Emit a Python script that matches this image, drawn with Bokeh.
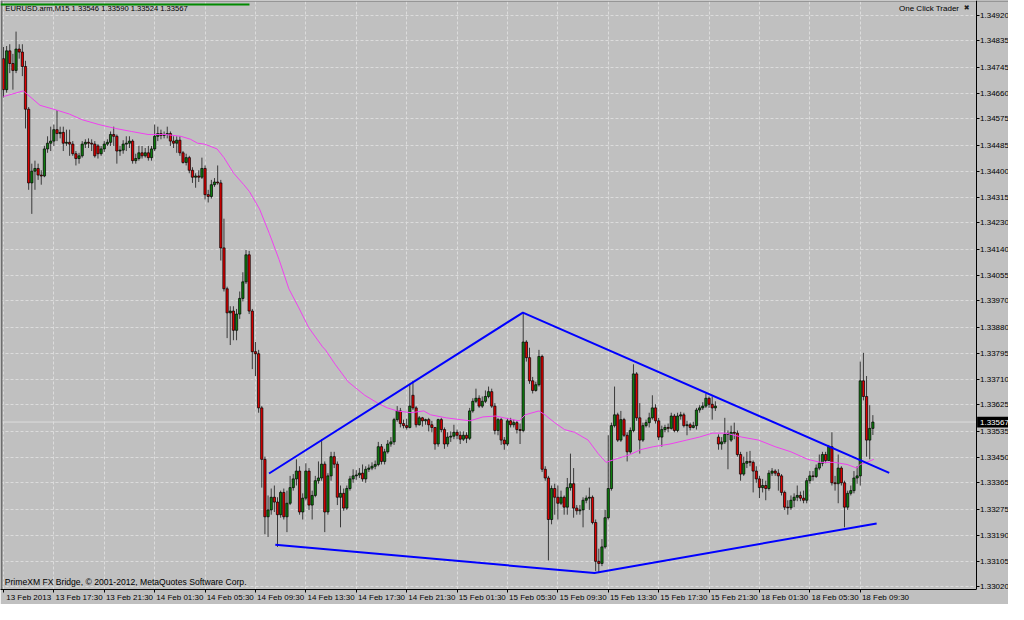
from bokeh.plotting import figure
from bokeh.models import (FixedTicker, Range1d, Label, ColumnDataSource,
                          PrintfTickFormatter)
from bokeh.embed import file_html
from bokeh.resources import INLINE

# ---------------- data (EURUSD M15, bar index 0 = 13 Feb 2013 13:30) ----------------
opens = [
 1.34775,1.34672,1.34801,1.34759,1.34736,1.34807,1.34797,1.34749,1.34607,1.34362,
 1.34401,1.34410,1.34388,1.34385,1.34475,1.34494,1.34501,1.34539,1.34526,1.34530,
 1.34494,1.34497,1.34491,1.34459,1.34443,1.34452,1.34491,1.34497,1.34494,1.34491,
 1.34485,1.34459,1.34475,1.34491,1.34497,1.34523,1.34517,1.34468,1.34471,1.34491,
 1.34494,1.34501,1.34436,1.34443,1.34462,1.34452,1.34462,1.34446,1.34475,1.34517,
 1.34526,1.34520,1.34523,1.34526,1.34501,1.34494,1.34504,1.34462,1.34430,1.34446,
 1.34404,1.34381,1.34385,1.34381,1.34410,1.34323,1.34317,1.34356,1.34365,1.34362,
 1.34146,1.34010,1.33930,1.33936,1.33872,1.33926,1.33978,1.34033,1.34123,1.33936,
 1.33801,1.33794,1.33614,1.33443,1.33252,1.33275,1.33317,1.33301,1.33259,1.33333,
 1.33252,1.33297,1.33349,1.33378,1.33404,1.33268,1.33314,1.33404,1.33291,1.33323,
 1.33372,1.33381,1.33427,1.33268,1.33388,1.33452,1.33427,1.33317,1.33330,1.33281,
 1.33346,1.33378,1.33388,1.33391,1.33397,1.33378,1.33410,1.33414,1.33420,1.33426,
 1.33485,1.33436,1.33468,1.33494,1.33501,1.33575,1.33604,1.33562,1.33555,1.33549,
 1.33656,1.33614,1.33558,1.33581,1.33571,1.33575,1.33558,1.33549,1.33494,1.33575,
 1.33542,1.33494,1.33517,1.33520,1.33533,1.33523,1.33510,1.33523,1.33513,1.33604,
 1.33636,1.33646,1.33620,1.33636,1.33652,1.33668,1.33620,1.33539,1.33575,1.33507,
 1.33494,1.33571,1.33558,1.33565,1.33542,1.33539,1.33833,1.33781,1.33704,1.33672,
 1.33691,1.33785,1.33410,1.33381,1.33243,1.33346,1.33317,1.33297,1.33317,1.33284,
 1.33349,1.33362,1.33281,1.33272,1.33275,1.33307,1.33314,1.33317,1.33233,1.33104,
 1.33097,1.33152,1.33249,1.33346,1.33555,1.33591,1.33507,1.33575,1.33523,1.33468,
 1.33539,1.33727,1.33581,1.33507,1.33555,1.33565,1.33581,1.33614,1.33571,1.33517,
 1.33542,1.33549,1.33546,1.33587,1.33539,1.33587,1.33591,1.33555,1.33558,1.33549,
 1.33555,1.33607,1.33614,1.33620,1.33646,1.33626,1.33614,1.33517,1.33494,1.33501,
 1.33526,1.33507,1.33533,1.33530,1.33459,1.33394,1.33430,1.33436,1.33433,1.33404,
 1.33378,1.33349,1.33356,1.33346,1.33397,1.33404,1.33397,1.33388,1.33333,1.33284,
 1.33282,1.33307,1.33317,1.33323,1.33314,1.33307,1.33372,1.33388,1.33386,1.33414,
 1.33430,1.33459,1.33439,1.33485,1.33365,1.33362,1.33414,1.33365,1.33284,1.33330,
 1.33339,1.33381,1.33388,1.33704,1.33652,1.33507,1.33546]
highs = [
 1.34814,1.34817,1.34823,1.34791,1.34865,1.34823,1.34823,1.34768,1.34614,1.34426,
 1.34436,1.34426,1.34404,1.34485,1.34517,1.34549,1.34556,1.34604,1.34549,1.34549,
 1.34539,1.34539,1.34501,1.34468,1.34462,1.34501,1.34507,1.34510,1.34507,1.34501,
 1.34491,1.34485,1.34501,1.34507,1.34533,1.34549,1.34523,1.34485,1.34504,1.34517,
 1.34517,1.34507,1.34459,1.34485,1.34485,1.34478,1.34485,1.34485,1.34556,1.34549,
 1.34539,1.34533,1.34549,1.34533,1.34517,1.34517,1.34517,1.34468,1.34459,1.34452,
 1.34414,1.34394,1.34404,1.34446,1.34420,1.34339,1.34372,1.34378,1.34420,1.34372,
 1.34243,1.34017,1.33952,1.33952,1.33943,1.34001,1.34065,1.34139,1.34136,1.33943,
 1.33833,1.33807,1.33620,1.33452,1.33323,1.33346,1.33356,1.33317,1.33339,1.33346,
 1.33339,1.33388,1.33394,1.33443,1.33420,1.33330,1.33430,1.33414,1.33339,1.33388,
 1.33436,1.33510,1.33436,1.33397,1.33468,1.33468,1.33436,1.33356,1.33346,1.33356,
 1.33388,1.33410,1.33407,1.33414,1.33426,1.33420,1.33426,1.33433,1.33439,1.33501,
 1.33494,1.33478,1.33507,1.33517,1.33581,1.33620,1.33614,1.33575,1.33578,1.33694,
 1.33704,1.33620,1.33587,1.33584,1.33578,1.33581,1.33571,1.33549,1.33578,1.33581,
 1.33549,1.33533,1.33536,1.33558,1.33542,1.33536,1.33536,1.33533,1.33614,1.33646,
 1.33678,1.33656,1.33652,1.33672,1.33685,1.33678,1.33630,1.33581,1.33581,1.33517,
 1.33581,1.33581,1.33575,1.33571,1.33562,1.33930,1.33839,1.33814,1.33717,1.33701,
 1.33807,1.33791,1.33420,1.33388,1.33356,1.33362,1.33356,1.33339,1.33323,1.33381,
 1.33462,1.33414,1.33291,1.33291,1.33317,1.33323,1.33349,1.33323,1.33243,1.33146,
 1.33178,1.33275,1.33523,1.33565,1.33685,1.33598,1.33604,1.33581,1.33533,1.33549,
 1.33759,1.33733,1.33630,1.33565,1.33575,1.33598,1.33656,1.33626,1.33581,1.33555,
 1.33558,1.33562,1.33598,1.33594,1.33598,1.33601,1.33598,1.33571,1.33565,1.33568,
 1.33614,1.33623,1.33633,1.33662,1.33652,1.33652,1.33636,1.33526,1.33517,1.33581,
 1.33539,1.33555,1.33565,1.33539,1.33468,1.33452,1.33468,1.33471,1.33439,1.33420,
 1.33388,1.33378,1.33372,1.33407,1.33414,1.33410,1.33410,1.33394,1.33339,1.33307,
 1.33323,1.33330,1.33356,1.33336,1.33339,1.33381,1.33404,1.33404,1.33426,1.33459,
 1.33468,1.33468,1.33491,1.33533,1.33388,1.33459,1.33420,1.33372,1.33339,1.33356,
 1.33404,1.33420,1.33768,1.33797,1.33720,1.33623,1.33590]
lows = [
 1.34646,1.34662,1.34727,1.34672,1.34727,1.34775,1.34717,1.34543,1.34339,1.34259,
 1.34339,1.34372,1.34356,1.34381,1.34462,1.34468,1.34485,1.34501,1.34510,1.34468,
 1.34485,1.34452,1.34452,1.34420,1.34426,1.34446,1.34478,1.34478,1.34468,1.34446,
 1.34443,1.34452,1.34465,1.34485,1.34485,1.34485,1.34426,1.34452,1.34459,1.34468,
 1.34478,1.34426,1.34426,1.34436,1.34443,1.34446,1.34436,1.34436,1.34468,1.34501,
 1.34507,1.34510,1.34510,1.34485,1.34478,1.34462,1.34452,1.34426,1.34420,1.34394,
 1.34362,1.34346,1.34365,1.34375,1.34307,1.34297,1.34310,1.34349,1.34356,1.34104,
 1.34001,1.33846,1.33823,1.33839,1.33839,1.33910,1.33968,1.34026,1.33926,1.33743,
 1.33720,1.33598,1.33349,1.33194,1.33185,1.33259,1.33268,1.33152,1.33249,1.33243,
 1.33201,1.33291,1.33339,1.33356,1.33259,1.33243,1.33307,1.33275,1.33243,1.33317,
 1.33362,1.33372,1.33201,1.33259,1.33372,1.33414,1.33291,1.33217,1.33272,1.33275,
 1.33339,1.33365,1.33375,1.33381,1.33369,1.33365,1.33401,1.33407,1.33410,1.33420,
 1.33426,1.33426,1.33462,1.33485,1.33491,1.33568,1.33549,1.33546,1.33542,1.33546,
 1.33607,1.33549,1.33555,1.33552,1.33558,1.33536,1.33533,1.33475,1.33485,1.33533,
 1.33478,1.33485,1.33501,1.33510,1.33510,1.33494,1.33504,1.33497,1.33507,1.33598,
 1.33630,1.33614,1.33614,1.33630,1.33646,1.33614,1.33526,1.33523,1.33491,1.33475,
 1.33488,1.33549,1.33549,1.33529,1.33494,1.33533,1.33768,1.33694,1.33662,1.33668,
 1.33685,1.33401,1.33372,1.33107,1.33227,1.33259,1.33243,1.33291,1.33259,1.33259,
 1.33339,1.33249,1.33259,1.33259,1.33217,1.33297,1.33275,1.33227,1.33072,1.33065,
 1.33088,1.33146,1.33243,1.33339,1.33549,1.33501,1.33501,1.33517,1.33436,1.33462,
 1.33533,1.33571,1.33462,1.33501,1.33549,1.33549,1.33575,1.33562,1.33507,1.33485,
 1.33533,1.33533,1.33542,1.33533,1.33533,1.33575,1.33549,1.33523,1.33539,1.33546,
 1.33542,1.33598,1.33607,1.33614,1.33614,1.33575,1.33604,1.33475,1.33475,1.33494,
 1.33410,1.33501,1.33510,1.33452,1.33372,1.33388,1.33414,1.33420,1.33333,1.33365,
 1.33314,1.33333,1.33307,1.33339,1.33388,1.33388,1.33339,1.33323,1.33275,1.33259,
 1.33275,1.33284,1.33304,1.33304,1.33297,1.33297,1.33362,1.33372,1.33381,1.33407,
 1.33420,1.33430,1.33439,1.33356,1.33339,1.33297,1.33356,1.33217,1.33275,1.33323,
 1.33330,1.33362,1.33356,1.33639,1.33452,1.33443,1.33524]
closes = [
 1.34672,1.34801,1.34759,1.34736,1.34807,1.34797,1.34749,1.34607,1.34362,1.34401,
 1.34410,1.34388,1.34385,1.34475,1.34494,1.34501,1.34539,1.34526,1.34530,1.34494,
 1.34497,1.34491,1.34459,1.34443,1.34452,1.34491,1.34497,1.34494,1.34491,1.34452,
 1.34459,1.34475,1.34491,1.34497,1.34523,1.34517,1.34468,1.34471,1.34491,1.34494,
 1.34501,1.34436,1.34443,1.34462,1.34452,1.34462,1.34446,1.34475,1.34517,1.34526,
 1.34520,1.34523,1.34526,1.34501,1.34494,1.34504,1.34462,1.34430,1.34446,1.34404,
 1.34381,1.34385,1.34381,1.34410,1.34323,1.34317,1.34356,1.34365,1.34362,1.34146,
 1.34010,1.33930,1.33936,1.33872,1.33926,1.33978,1.34033,1.34123,1.33936,1.33801,
 1.33794,1.33614,1.33443,1.33252,1.33275,1.33317,1.33301,1.33259,1.33333,1.33252,
 1.33297,1.33349,1.33378,1.33404,1.33268,1.33314,1.33404,1.33291,1.33323,1.33372,
 1.33381,1.33427,1.33268,1.33388,1.33452,1.33427,1.33317,1.33330,1.33281,1.33346,
 1.33378,1.33388,1.33391,1.33397,1.33378,1.33410,1.33414,1.33420,1.33426,1.33485,
 1.33436,1.33468,1.33494,1.33501,1.33575,1.33604,1.33562,1.33555,1.33549,1.33620,
 1.33614,1.33558,1.33581,1.33571,1.33575,1.33558,1.33549,1.33494,1.33575,1.33542,
 1.33494,1.33517,1.33520,1.33533,1.33523,1.33510,1.33523,1.33513,1.33604,1.33636,
 1.33646,1.33620,1.33636,1.33652,1.33668,1.33620,1.33539,1.33575,1.33507,1.33494,
 1.33571,1.33558,1.33565,1.33542,1.33539,1.33833,1.33781,1.33704,1.33672,1.33691,
 1.33785,1.33410,1.33381,1.33243,1.33346,1.33317,1.33297,1.33317,1.33284,1.33349,
 1.33362,1.33281,1.33272,1.33275,1.33307,1.33314,1.33317,1.33233,1.33104,1.33097,
 1.33152,1.33249,1.33346,1.33555,1.33591,1.33507,1.33575,1.33523,1.33468,1.33539,
 1.33727,1.33581,1.33507,1.33555,1.33565,1.33581,1.33614,1.33571,1.33517,1.33542,
 1.33549,1.33546,1.33587,1.33539,1.33587,1.33591,1.33555,1.33558,1.33549,1.33555,
 1.33607,1.33614,1.33620,1.33646,1.33626,1.33614,1.33620,1.33494,1.33501,1.33526,
 1.33529,1.33533,1.33530,1.33459,1.33394,1.33430,1.33436,1.33433,1.33404,1.33378,
 1.33349,1.33356,1.33346,1.33397,1.33404,1.33397,1.33388,1.33333,1.33284,1.33282,
 1.33307,1.33317,1.33323,1.33314,1.33307,1.33372,1.33388,1.33386,1.33414,1.33430,
 1.33459,1.33439,1.33485,1.33365,1.33362,1.33414,1.33365,1.33284,1.33330,1.33339,
 1.33381,1.33388,1.33704,1.33652,1.33507,1.33546,1.33567]

# moving average (magenta): bar position, price
ma_pos = [0, 6.3, 11.6, 16.9, 20.9, 25, 30.3, 35.6, 40.6, 45.9, 51.3, 56.3, 59.4, 61.6,
          63.8, 67.8, 70, 73.1, 76.3, 78.1, 81.3, 84.4, 87.5, 90.6, 93.8, 96.9, 101.3,
          102.2, 105.3, 109.4, 114.7, 118.8, 121.9, 125, 129.4, 133.4, 135.6, 140.6,
          148.1, 152.2, 156.3, 161.6, 163.8, 165.6, 170, 171.9, 175, 178.1, 181.3, 185.6,
          188.8, 191.3, 195, 199, 202.2, 206.3, 211.6, 216.9, 220.9, 225, 229.4, 234.4,
          239.7, 245, 250, 255.3, 259.4, 263.8, 267.8, 270.9, 271.9, 274, 276.3]
ma_val = [1.34649, 1.34668, 1.34620, 1.34604, 1.34591, 1.34572, 1.34556, 1.34543, 1.34533,
          1.34523, 1.34523, 1.34517, 1.34507, 1.34494, 1.34491, 1.34475, 1.34446, 1.34394,
          1.34356, 1.34333, 1.34275, 1.34194, 1.34107, 1.34010, 1.33946, 1.33881, 1.33817,
          1.33807, 1.33759, 1.33701, 1.33656, 1.33630, 1.33614, 1.33604, 1.33598, 1.33604,
          1.33591, 1.33581, 1.33571, 1.33584, 1.33587, 1.33575, 1.33571, 1.33591, 1.33604,
          1.33591, 1.33565, 1.33542, 1.33533, 1.33507, 1.33462, 1.33433, 1.33446, 1.33459,
          1.33475, 1.33485, 1.33494, 1.33507, 1.33517, 1.33530, 1.33530, 1.33517, 1.33507,
          1.33485, 1.33468, 1.33443, 1.33433, 1.33433, 1.33426, 1.33414, 1.33426, 1.33433,
          1.33443]

# hand-drawn trend lines: bar position, price
upper_pos = [84.3, 164.9, 281.2]
upper_val = [1.33396, 1.33931, 1.33398]
lower_pos = [86.3, 187.6, 277.2]
lower_val = [1.33159, 1.33065, 1.33230]

price_ticks = [1.33020, 1.33105, 1.33190, 1.33275, 1.33365, 1.33450, 1.33535, 1.33625,
               1.33710, 1.33795, 1.33880, 1.33970, 1.34055, 1.34140, 1.34230, 1.34315,
               1.34400, 1.34485, 1.34575, 1.34660, 1.34745, 1.34835, 1.34920]
time_tick_bars = [0, 16, 32, 48, 64, 80, 96, 112, 128, 144, 160, 176, 192, 208, 224,
                  240, 256, 272]
time_tick_labels = ["13 Feb 2013", "13 Feb 17:30", "13 Feb 21:30", "14 Feb 01:30",
                    "14 Feb 05:30", "14 Feb 09:30", "14 Feb 13:30", "14 Feb 17:30",
                    "14 Feb 21:30", "15 Feb 01:30", "15 Feb 05:30", "15 Feb 09:30",
                    "15 Feb 13:30", "15 Feb 17:30", "15 Feb 21:30", "18 Feb 01:30",
                    "18 Feb 05:30", "18 Feb 09:30"]
last_price = 1.33567
header = "EURUSD.arm,M15  1.33546 1.33590 1.33524 1.33567"

# ---------------- layout constants ----------------
BG = "#C0C0C0"
FONT = "Liberation Sans"
X0, X1 = -0.94, 319.06          # visible bar range (whole width)
AXIS_X = 308.75                  # price scale sits here, labels to its right
Y0, Y1 = 1.330103, 1.349684

n = len(closes)
xs = list(range(n))
src = ColumnDataSource(dict(
    x=xs, high=highs, low=lows,
    top=[max(o, c) for o, c in zip(opens, closes)],
    bottom=[min(o, c) for o, c in zip(opens, closes)],
    color=["#0E7D0E" if c >= o else "#DD0000" for o, c in zip(opens, closes)],
))

p = figure(width=1008, height=604, output_backend="svg", toolbar_location=None,
           x_range=Range1d(X0, X1), y_range=Range1d(Y0, Y1),
           y_axis_location="right", min_border_left=0, min_border_top=0,
           min_border_right=0, min_border_bottom=0)
p.background_fill_color = BG
p.border_fill_color = BG
p.outline_line_color = None

# price axis: placed inside the plot area at the chart's right edge
yax = p.yaxis[0]
yax.fixed_location = AXIS_X
yax.ticker = FixedTicker(ticks=price_ticks)
yax.formatter = PrintfTickFormatter(format="%.5f")
yax.major_label_text_font = FONT
yax.major_label_text_font_size = "8px"
yax.major_label_text_color = "black"
yax.major_tick_out = 3
yax.major_tick_in = 0
yax.minor_tick_out = 0
yax.minor_tick_in = 0
yax.major_label_standoff = 1
yax.axis_line_color = "black"
yax.major_tick_line_color = "black"

# time axis: small tick at each bar mark, label starting just right of it
label_shift = 8
label_pos = [b + label_shift for b in time_tick_bars]
xax = p.xaxis[0]
xax.bounds = (X0, AXIS_X)
xax.ticker = FixedTicker(ticks=label_pos, minor_ticks=time_tick_bars)
xax.major_label_overrides = {pos: t for pos, t in zip(label_pos, time_tick_labels)}
xax.major_label_text_font = FONT
xax.major_label_text_font_size = "8px"
xax.major_label_text_color = "black"
xax.major_label_standoff = 0
xax.major_tick_line_color = None
xax.major_tick_out = 0
xax.major_tick_in = 0
xax.minor_tick_line_color = "black"
xax.minor_tick_out = 3
xax.minor_tick_in = 0
xax.axis_line_color = "black"

p.ygrid.ticker = FixedTicker(ticks=price_ticks)
p.xgrid.ticker = FixedTicker(ticks=time_tick_bars)
for g in (p.xgrid, p.ygrid):
    g.grid_line_color = "#DCDCDC"
    g.grid_line_dash = "3 2"
    g.grid_line_width = 1

# current price line
p.line([X0, AXIS_X], [last_price, last_price], line_color="#DCDCDC", line_width=1)

# candles
p.segment(x0="x", y0="low", x1="x", y1="high", source=src, line_color="#3A3A3A",
          line_width=1)
p.vbar(x="x", width=0.72, top="top", bottom="bottom", source=src,
       fill_color="color", line_color="black", line_width=0.7)

# moving average
p.line(ma_pos, ma_val, line_color="#F040F0", line_width=1)

# trend lines
p.line(upper_pos, upper_val, line_color="#0000FF", line_width=2)
p.line(lower_pos, lower_val, line_color="#0000FF", line_width=2)

# blank strip for the price scale
p.quad(left=AXIS_X, right=X1 + 5, bottom=Y0 - 0.001, top=Y1 + 0.001,
       fill_color=BG, line_color=None)

# window borders (left / top)
p.line([X0 + 0.3, X0 + 0.3], [Y0, Y1], line_color="#6E6E6E", line_width=2)
p.line([X0, X1], [Y1 - 0.00002, Y1 - 0.00002], line_color="#7A7A7A", line_width=1)

# top progress bar
p.line([X0, 78.1], [1.34955, 1.34955], line_color="#008A00", line_width=2)

# current price tag on the scale
p.quad(left=309.1, right=X1 + 1, bottom=last_price - 0.00018, top=last_price + 0.00018,
       fill_color="black", line_color=None)

# texts
p.add_layout(Label(x=0.6, y=1.34943, text=header, text_font=FONT,
                   text_font_size="7.6px", text_baseline="middle", text_color="black"))
p.add_layout(Label(x=303.4, y=1.34943, text="One Click Trader", text_font=FONT,
                   text_font_size="8px", text_baseline="middle", text_align="right",
                   text_color="black"))
p.add_layout(Label(x=305.8, y=1.34943, text="\u2716", text_font="DejaVu Sans",
                   text_font_size="7px", text_baseline="middle", text_align="center",
                   text_color="#202020"))
p.add_layout(Label(x=0.4, y=1.33035, text="PrimeXM FX Bridge, \u00a9 2001-2012, MetaQuotes Software Corp.",
                   text_font=FONT, text_font_size="8.6px", text_baseline="middle",
                   text_color="black"))
p.add_layout(Label(x=310.0, y=last_price, text=f"{last_price:.5f}",
                   text_font=FONT, text_font_size="8px", text_baseline="middle",
                   text_color="white"))

open("out.html", "w").write(file_html(p, INLINE))
